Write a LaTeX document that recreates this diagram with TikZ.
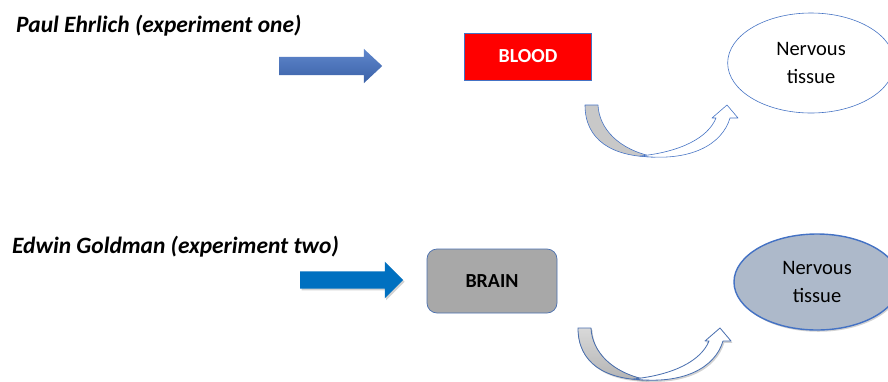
\documentclass[tikz,border=0pt]{standalone}
\usepackage{fontspec}
\setmainfont{Carlito}
\usetikzlibrary{shapes.geometric, shapes.arrows, shadows}

\definecolor{edgeblue}{HTML}{4472C4}
\definecolor{darkedge}{HTML}{4A70B0}
\definecolor{arrowone}{HTML}{4472C4}
\definecolor{arrowtwo}{HTML}{0070C0}
\definecolor{brainfill}{HTML}{A8A8A8}
\definecolor{tissuefill}{HTML}{ADB9CA}
\definecolor{bandgray}{HTML}{C8C8C8}

\begin{document}
\begin{tikzpicture}[
    x=0.03cm, y=-0.03cm,
    title/.style={anchor=base west, inner sep=0pt, font=\fontsize{20}{24}\selectfont\bfseries\itshape},
    blockarrow/.style={single arrow, anchor=tail, inner xsep=0pt, inner ysep=0.27cm, draw=none, minimum height=3.09cm, single arrow head extend=0.24cm, single arrow tip angle=86},
    organ/.style={rectangle, minimum width=3.8cm, inner sep=0pt, font=\fontsize{17}{20}\selectfont\bfseries},
    tissue/.style={ellipse, minimum width=5cm, minimum height=3cm, inner sep=0pt, align=center, font=\fontsize{17.5}{24}\selectfont},
    band/.style={draw=edgeblue, line width=0.5pt, line join=round},
    shade/.style={drop shadow={shadow xshift=1.2pt, shadow yshift=-1.5pt, opacity=0.35}}
]
\clip (0,0) rectangle (888,381);
\fill[white] (0,0) rectangle (888,381);

% experiment one
\node[title] (ehrlich) at (16,32) {Paul Ehrlich (experiment one)};
\node[blockarrow, top color=arrowone!85!white, bottom color=arrowone!85!black] (arrowa) at (279,66) {};
\node[organ, fill=red, draw=edgeblue, line width=0.4pt, minimum height=1.41cm, text=white] (blood) at (528,56.5) {BLOOD};
\node[tissue, draw=edgeblue, line width=0.5pt, fill=white] (tissuea) at (811,63) {Nervous\\tissue};

\fill[bandgray, band] (585,105) -- (598,105) .. controls (599,128) and (618,150) .. (655,157)
    .. controls (612,157) and (585,140) .. (585,105) -- cycle;
\fill[white, band] (640,156) .. controls (690,162) and (722,145) .. (730,118)
    -- (738,118) -- (727,105) -- (712,118) -- (716,118)
    .. controls (708,138) and (680,152) .. (640,156) -- cycle;

% experiment two
\node[title] (goldman) at (12,253) {Edwin Goldman (experiment two)};
\node[blockarrow, fill=arrowtwo, shade, inner ysep=0.255cm, single arrow head extend=0.29cm, single arrow tip angle=90] (arrowb) at (300,280) {};
\node[organ, fill=brainfill, draw=darkedge, line width=0.6pt, rounded corners=0.3cm, minimum width=3.9cm, minimum height=1.92cm] (brain) at (492,281) {BRAIN};
\node[tissue, draw=edgeblue, line width=1.2pt, fill=tissuefill, shade, minimum width=4.98cm, minimum height=2.88cm] (tissueb) at (817,282) {Nervous\\tissue};

\begin{scope}[shift={(-7,223)}]
\fill[top color=bandgray!70!white, bottom color=bandgray!90!black, band, draw=darkedge, line width=0.7pt, shade] (585,105) -- (598,105) .. controls (599,128) and (618,150) .. (655,157)
    .. controls (612,157) and (585,140) .. (585,105) -- cycle;
\fill[white, band, draw=darkedge, line width=0.7pt, shade] (640,156) .. controls (690,162) and (722,145) .. (730,118)
    -- (738,118) -- (727,105) -- (712,118) -- (716,118)
    .. controls (708,138) and (680,152) .. (640,156) -- cycle;
\end{scope}

\end{tikzpicture}
\end{document}
